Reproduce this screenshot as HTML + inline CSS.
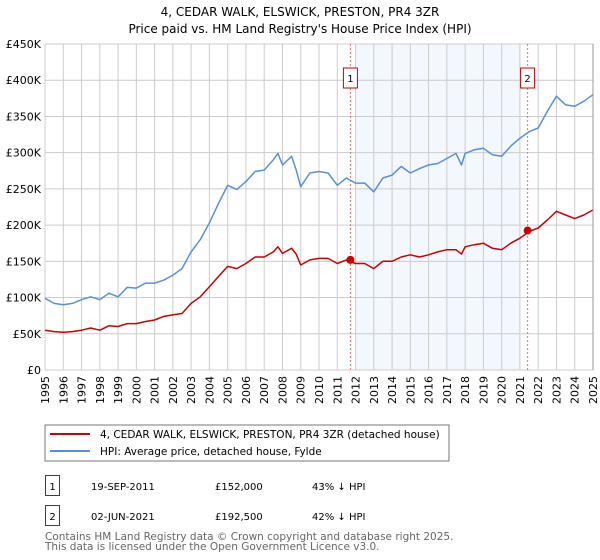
<!DOCTYPE html>
<html><head><meta charset="utf-8"><style>
html,body{margin:0;padding:0;background:#fff;}
svg{display:block;font-family:"DejaVu Sans","Liberation Sans",sans-serif;}
</style></head><body>
<svg id="chart" width="600" height="560" viewBox="0 0 600 560">
<text x="300" y="16" text-anchor="middle" font-size="12">4, CEDAR WALK, ELSWICK, PRESTON, PR4 3ZR</text>
<text x="300" y="33" text-anchor="middle" font-size="12">Price paid vs. HM Land Registry's House Price Index (HPI)</text>
<g id="grid"></g>
<g id="marks"></g>
<rect x="45" y="425" width="404" height="36" fill="#fff" stroke="#777"/>
<line x1="50" y1="434" x2="90" y2="434" stroke="#cc0000" stroke-width="2"/>
<text x="100" y="438" font-size="10.5">4, CEDAR WALK, ELSWICK, PRESTON, PR4 3ZR (detached house)</text>
<line x1="50" y1="451" x2="90" y2="451" stroke="#5b8fd4" stroke-width="2"/>
<text x="100" y="455" font-size="10.5">HPI: Average price, detached house, Fylde</text>
<rect x="45.5" y="475.5" width="14" height="20" fill="#fff" stroke="#cc0000"/>
<text x="52.5" y="490" font-size="10" text-anchor="middle">1</text>
<text x="91" y="490" font-size="10">19-SEP-2011</text>
<text x="215" y="490" font-size="10">£152,000</text>
<text x="312" y="490" font-size="10">43% ↓ HPI</text>
<rect x="45.5" y="505.5" width="14" height="20" fill="#fff" stroke="#cc0000"/>
<text x="52.5" y="520" font-size="10" text-anchor="middle">2</text>
<text x="91" y="520" font-size="10">02-JUN-2021</text>
<text x="215" y="520" font-size="10">£192,500</text>
<text x="312" y="520" font-size="10">42% ↓ HPI</text>
<text x="45" y="540" font-size="10.5" fill="#666">Contains HM Land Registry data © Crown copyright and database right 2025.</text>
<text x="45" y="550" font-size="10.5" fill="#666">This data is licensed under the Open Government Licence v3.0.</text>
</svg>
<script>
const yearStart = 1995, yearEnd = 2025;
const yTicks = [0,50,100,150,200,250,300,350,400,450];
const yTickLabels = ["£0","£50K","£100K","£150K","£200K","£250K","£300K","£350K","£400K","£450K"];
const seriesYears = [1995,1995.5,1996,1996.5,1997,1997.5,1998,1998.5,1999,1999.5,2000,2000.5,2001,2001.5,2002,2002.5,2003,2003.5,2004,2004.5,2005,2005.5,2006,2006.5,2007,2007.5,2007.75,2008,2008.5,2008.75,2009,2009.5,2010,2010.5,2011,2011.5,2012,2012.5,2013,2013.5,2014,2014.5,2015,2015.5,2016,2016.5,2017,2017.5,2017.8,2018,2018.5,2019,2019.5,2020,2020.5,2021,2021.5,2022,2022.5,2023,2023.5,2024,2024.5,2025];
const hpiValues = [99,92,90,92,97,101,97,106,101,114,113,120,120,124,131,140,163,180,203,230,255,249,260,274,276,290,299,283,295,276,253,272,274,272,255,265,258,258,246,265,269,281,272,278,283,285,292,299,283,299,304,306,297,295,309,320,329,334,357,378,366,364,371,380];
const paidValues = [55,53,52,53,55,58,55,61,60,64,64,67,69,74,76,78,92,101,115,129,143,140,147,156,156,163,170,161,168,160,145,152,154,154,147,152,147,147,140,150,150,156,159,156,159,163,166,166,160,170,173,175,168,166,175,182,191,196,207,219,214,209,214,221];
const saleYears = [2011.72, 2021.42];
const saleValues = [152, 192.5];
const saleLabels = ["1","2"];
const shadeRange = [2012.0, 2021.0];

const L=45,R=593,T=44,B=370;
const xs = y => L + (y-yearStart)/(yearEnd-yearStart)*(R-L);
const ys = v => B - v/450*(B-T);
const NS="http://www.w3.org/2000/svg";
const grid=document.getElementById('grid'), marks=document.getElementById('marks');
function mk(tag,attrs,parent){const e=document.createElementNS(NS,tag);for(const k in attrs)e.setAttribute(k,attrs[k]);parent.appendChild(e);return e;}

const sh=mk('rect',{x:xs(shadeRange[0]),y:T,width:xs(shadeRange[1])-xs(shadeRange[0]),height:B-T,fill:'#eef3fd',opacity:0.7},grid);


for(let yr=yearStart;yr<=yearEnd;yr++){
  const x=xs(yr);
  const gl=mk('line',{x1:x,x2:x,y1:T,y2:B,stroke:'#cccccc','stroke-width':1},grid);
  
  
  const t=mk('text',{x:0,y:0,'font-size':11,'text-anchor':'end',transform:`translate(${x+4},${B+6}) rotate(-90)`},grid);
  t.textContent=yr;
  
  
}
yTicks.forEach((v,i)=>{
  const y=ys(v);
  const gl=mk('line',{x1:L,x2:R,y1:y,y2:y,stroke:'#cccccc','stroke-width':1},grid);
  
  
  const t=mk('text',{x:L-4,y:y+4,'font-size':11,'text-anchor':'end'},grid);
  t.textContent=yTickLabels[i];
  
  
});
saleYears.forEach((yr,i)=>{
  const x=xs(yr);
  const vl=mk('line',{x1:x,x2:x,y1:T,y2:B,stroke:'#ff6666','stroke-width':1,'stroke-dasharray':'2,2'},marks);
  
  
  const bx=mk('rect',{x:x-7,y:68,width:14,height:20,fill:'#fff',stroke:'#cc0000'},marks);
  
  
  const bt=mk('text',{x:x,y:82,'font-size':10,'text-anchor':'middle'},marks);
  bt.textContent=saleLabels[i];
  
  
});
function path(vals,color,name){
  const d=seriesYears.map((yr,i)=>(i?'L':'M')+xs(yr).toFixed(1)+','+ys(vals[i]).toFixed(1)).join('');
  const p=mk('path',{d:d,fill:'none',stroke:color,'stroke-width':1.5,'stroke-linejoin':'round'},marks);
  
  
}
path(hpiValues,'#5b8fd4','hpi-line');
path(paidValues,'#cc0000','price-paid-line');
saleYears.forEach((yr,i)=>{
  const c=mk('circle',{cx:xs(yr),cy:ys(saleValues[i]),r:4,fill:'#cc0000'},marks);
  
  
});
const ax=mk('line',{x1:R,x2:R,y1:T,y2:B,stroke:'#999','stroke-width':1},marks);


</script>
</body></html>
